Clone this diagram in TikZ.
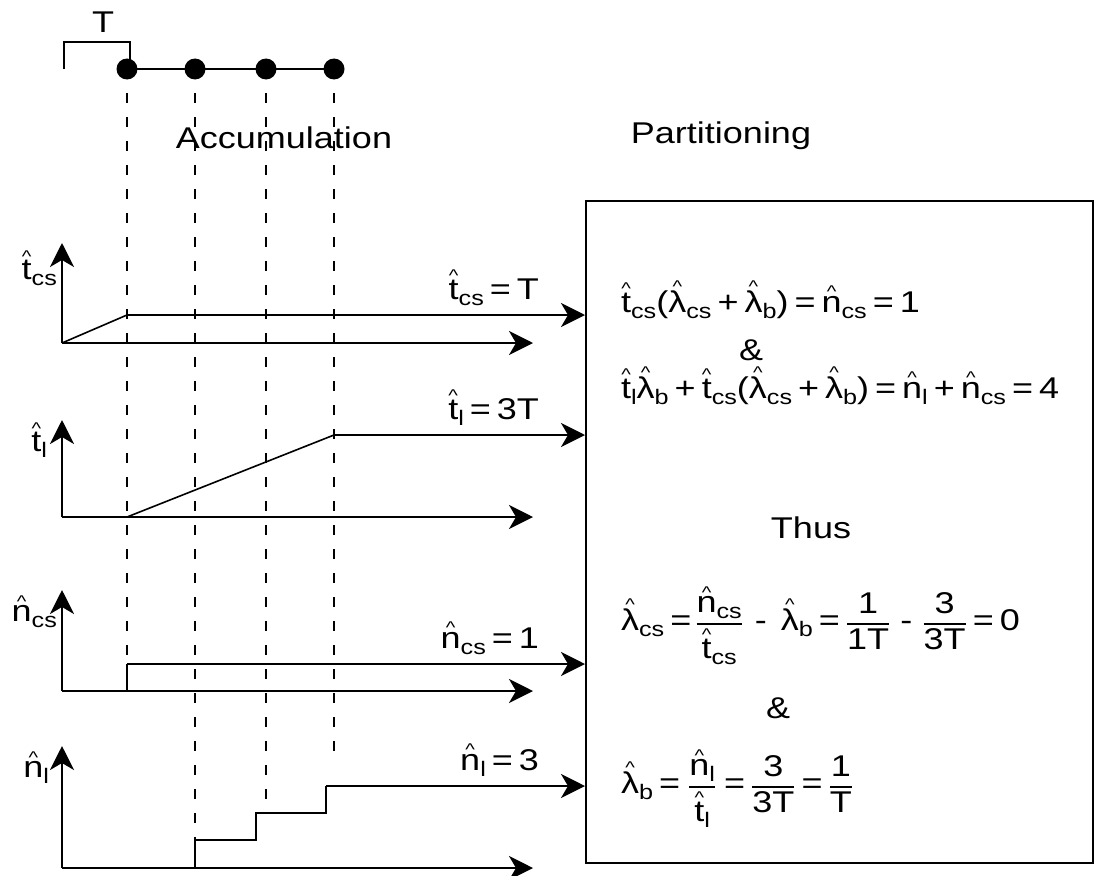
\documentclass[tikz,border=0pt]{standalone}
\usepackage{amsmath}
\usepackage{fontspec}
\setmainfont{Liberation Sans}[FakeStretch=1.2]
\usetikzlibrary{arrows.meta}
% text sizes
\newcommand{\eqfont}{\fontsize{30}{36}\selectfont\spaceskip=6pt plus 2pt\relax}
% hatted symbol with lowered subscript
\newcommand{\hatx}[1]{\leavevmode\vbox{\offinterlineskip\halign{\hfil##\hfil\cr{\fontsize{17}{17}\selectfont\textasciicircum}\cr\noalign{\kern-2pt}#1\cr}}}
\newcommand{\lowsub}[1]{\raisebox{-6pt}{\fontsize{21}{21}\selectfont #1}}
\newcommand{\hq}[2]{\hatx{#1}\lowsub{#2}}
\newcommand{\fr}[2]{\ensuremath{\genfrac{}{}{1.5pt}{0}{\mbox{#1}}{\mbox{#2}}}}
\tikzset{
  axis/.style={-{Stealth[length=24pt,width=24pt,inset=7pt]}},
  feed/.style={-{Stealth[length=24pt,width=24pt,inset=7pt]}},
  guide/.style={dash pattern=on 10pt off 14pt},
  ramp/.style={line width=1.6pt},
  tick/.style={circle, fill, minimum size=21pt, inner sep=0pt},
  lbl/.style={font=\eqfont, inner sep=0pt}
}

\begin{document}
\begin{tikzpicture}[x=1pt, y=-1pt, line width=2.2pt]
  \useasboundingbox (0,0) rectangle (1099,875);

  % Sampling instants
  \node[lbl] (per) at (103,22) {T};
  \draw (64,69) -- (64,42) -- (130,42) -- (130,69);
  \node[tick] (d1) at (127,69) {};
  \node[tick] (d2) at (195,69) {};
  \node[tick] (d3) at (266,69) {};
  \node[tick] (d4) at (334,69) {};
  \draw (d1.center) -- (d2.center) -- (d3.center) -- (d4.center);

  \node[lbl] (acc) at (284,138) {Accumulation};
  \node[lbl] (part) at (721,136) {Partitioning};

  % Partitioning box
  \node[draw, anchor=north west, minimum width=507pt, minimum height=662pt,
    inner sep=0pt] (box) at (585,200) {};

  % Axes
  \coordinate (o1) at (62,343);
  \coordinate (o2) at (62,517);
  \coordinate (o3) at (62,691);
  \coordinate (o4) at (62,868);
  \foreach \o/\top in {o1/243, o2/420, o3/590, o4/746} {
    \draw[axis] (\o) -- (\o |- 0,\top);
    \draw[axis] (\o) -- (533,0 |- \o);
  }
  \node[lbl, anchor=east] (ycs) at (58,268) {\hq{t}{cs}};
  \node[lbl, anchor=east] (yl) at (48,440) {\hq{t}{l}};
  \node[lbl, anchor=east] (ncs) at (58,612) {\hq{n}{cs}};
  \node[lbl, anchor=east] (nl) at (50,768) {\hq{n}{l}};

  % Curves
  \coordinate (a1) at (127,315);
  \coordinate (b1) at (127,517);
  \coordinate (b2) at (334,435);
  \coordinate (c1) at (127,664);
  \coordinate (e1) at (195,840);
  \coordinate (e2) at (256,813);
  \coordinate (e3) at (326,786);
  \draw[ramp] (o1) -- (a1);
  \draw[feed] (a1) -- (box.west |- a1);
  \draw[ramp] (b1) -- (b2);
  \draw[feed] (b2) -- (box.west |- b2);
  \draw (127,691) -- (c1);
  \draw[feed] (c1) -- (box.west |- c1);
  \draw (195,868) -- (e1) -- (e2 |- e1) -- (e2) -- (e3 |- e2) -- (e3);
  \draw[feed] (e3) -- (box.west |- e3);

  % Guides
  \draw[guide] (d1.center) -- (c1);
  \draw[guide] (d2.center) -- (e1);
  \draw[guide] (d3.center) -- (266,805);
  \draw[guide] (d4.center) -- (334,757);

  % Final values
  \node[lbl, anchor=base east] (v1) at (540,299) {\hq{t}{cs} = T};
  \node[lbl, anchor=base east] (v2) at (540,419) {\hq{t}{l} = 3T};
  \node[lbl, anchor=base east] (v3) at (540,648) {\hq{n}{cs} = 1};
  \node[lbl, anchor=base east] (v4) at (540,770) {\hq{n}{l} = 3};

  % Equations
  \node[lbl, anchor=base west] (eq1) at (620,312)
    {\hq{t}{cs}(\hq{λ}{cs} + \hq{λ}{b}) = \hq{n}{cs} = 1};
  \node[lbl] (and1) at (751,350) {\&};
  \node[lbl, anchor=base west] (eq2) at (620,398)
    {\hq{t}{l}\hq{λ}{b} + \hq{t}{cs}(\hq{λ}{cs} + \hq{λ}{b}) = \hq{n}{l} + \hq{n}{cs} = 4};
  \node[lbl] (thus) at (811,528) {Thus};
  \node[lbl, anchor=base west] (eq3) at (620,630)
    {\hq{λ}{cs} =\hspace{4pt}\fr{\hq{n}{cs}}{\hq{t}{cs}}\hspace{6pt} -\hspace{14pt}\hq{λ}{b} =\hspace{6pt}\fr{1}{1T}\hspace{4pt} -\hspace{4pt} \fr{3}{3T} = 0};
  \node[lbl] (and2) at (778,708) {\&};
  \node[lbl, anchor=base west] (eq4) at (620,793)
    {\hq{λ}{b} =\hspace{8pt}\fr{\hq{n}{l}}{\hq{t}{l}}\hspace{2pt} = \fr{3}{3T} = \fr{1}{T}};
\end{tikzpicture}
\end{document}
